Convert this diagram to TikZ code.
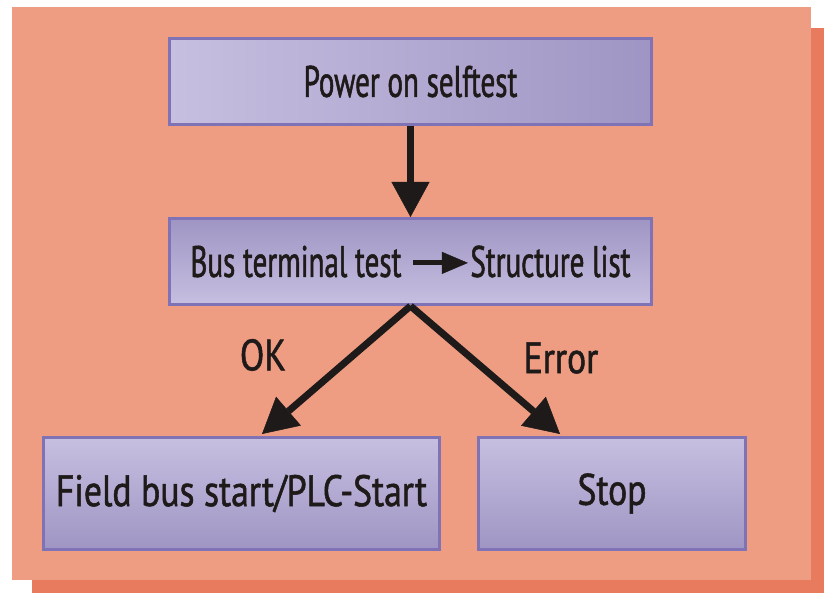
\documentclass[tikz,border=0pt]{standalone}
\usepackage{fontspec}
\setmainfont{PT Sans}[FakeStretch=0.66,FakeBold=1.2]
\newfontfamily\widefont{PT Sans}[FakeStretch=0.81,FakeBold=1.2]
\usetikzlibrary{arrows.meta}
\definecolor{salmon}{HTML}{EE9C82}
\definecolor{shadowc}{HTML}{E87B5D}
\definecolor{boxlight}{HTML}{C6BFE0}
\definecolor{boxdark}{HTML}{9F95C4}
\definecolor{boxedge}{HTML}{7F73B5}
\definecolor{ink}{HTML}{1E1A19}
\begin{document}
\begin{tikzpicture}[x=1pt,y=-1pt,
  box/.style={draw=boxedge, line width=3pt, inner sep=0pt, minimum height=86pt,
    font=\fontsize{44}{52}\selectfont, text=ink},
  widebox/.style={box, minimum height=112pt, font=\widefont\fontsize{44}{52}\selectfont},
  flow/.style={draw=ink, line width=7pt, -{Triangle[length=35pt,width=38pt,line width=0.5pt,fill=ink]}},
  lab/.style={font=\widefont\fontsize{44}{52}\selectfont, text=ink}]
\useasboundingbox (0,0) rectangle (824,593);
\fill[white] (0,0) rectangle (824,593);
\fill[shadowc] (32,28) rectangle (824,593);
\fill[salmon] (12,7) rectangle (811,580);

\node[box, minimum width=482pt, left color=boxlight, right color=boxdark] (a) at (410.5,81.5) {Power on selftest};
\node[box, minimum width=482pt, top color=boxdark, bottom color=boxlight] (b) at (410.5,261.5)
  {Bus terminal test\hspace{9pt}\tikz[baseline=-14pt]\draw[ink,line width=5pt,-{Triangle[length=26pt,width=22pt,line width=0.5pt,fill=ink]}] (0pt,0pt) -- (55pt,0pt);Structure list};
\node[widebox, minimum width=396pt, top color=boxlight, bottom color=boxdark] (c) at (241.5,493.5) {Field bus start/PLC-Start};
\node[widebox, minimum width=267pt, top color=boxlight, bottom color=boxdark] (d) at (612,493.5) {Stop};

\coordinate (okend) at (262,434);
\coordinate (errend) at (560,434);
\draw[flow] (a.south) -- (b.north);
\draw[flow] (b.south) -- (okend);
\draw[flow] (b.south) -- (errend);

\node[lab] (ok) at (263,355) {OK};
\node[lab] (err) at (561,358) {Error};
\end{tikzpicture}
\end{document}
